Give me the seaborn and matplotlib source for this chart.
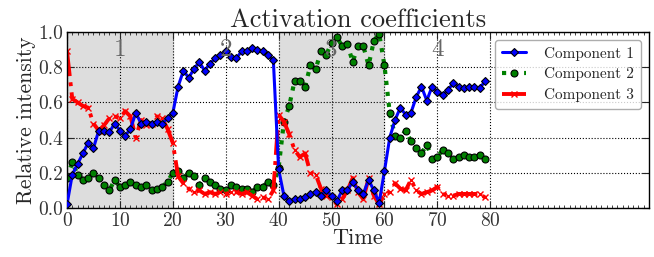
import numpy as np
import pandas as pd
import matplotlib
matplotlib.use("Agg")
import matplotlib.pyplot as plt
import seaborn as sns
from matplotlib.ticker import MultipleLocator

time = np.arange(80)

comp1 = [0.02, 0.19, 0.25, 0.31, 0.37, 0.34, 0.44, 0.44, 0.43, 0.48,
         0.44, 0.41, 0.45, 0.54, 0.48, 0.49, 0.48, 0.49, 0.48, 0.51,
         0.54, 0.69, 0.78, 0.74, 0.79, 0.83, 0.78, 0.82, 0.85, 0.87,
         0.89, 0.86, 0.85, 0.89, 0.89, 0.91, 0.90, 0.89, 0.87, 0.84,
         0.22, 0.07, 0.04, 0.05, 0.05, 0.06, 0.08, 0.09, 0.07, 0.10,
         0.07, 0.04, 0.10, 0.10, 0.15, 0.10, 0.08, 0.16, 0.10, 0.03,
         0.21, 0.40, 0.50, 0.57, 0.53, 0.54, 0.63, 0.69, 0.61, 0.69,
         0.66, 0.64, 0.67, 0.71, 0.69, 0.68, 0.69, 0.69, 0.68, 0.72]

comp2 = [0.17, 0.26, 0.19, 0.16, 0.17, 0.20, 0.17, 0.13, 0.10, 0.16,
         0.12, 0.13, 0.15, 0.13, 0.12, 0.13, 0.10, 0.11, 0.12, 0.15,
         0.20, 0.21, 0.17, 0.20, 0.18, 0.13, 0.17, 0.15, 0.13, 0.11,
         0.10, 0.13, 0.12, 0.11, 0.11, 0.09, 0.12, 0.12, 0.15, 0.13,
         0.23, 0.49, 0.58, 0.72, 0.72, 0.69, 0.81, 0.79, 0.89, 0.87,
         0.94, 0.97, 0.92, 0.93, 0.83, 0.92, 0.92, 0.81, 0.95, 0.99,
         0.81, 0.54, 0.41, 0.40, 0.44, 0.38, 0.34, 0.31, 0.36, 0.28,
         0.29, 0.33, 0.31, 0.28, 0.29, 0.30, 0.29, 0.29, 0.30, 0.28]

comp3 = [0.89, 0.62, 0.60, 0.58, 0.57, 0.48, 0.44, 0.47, 0.51, 0.52,
         0.51, 0.55, 0.52, 0.40, 0.50, 0.47, 0.48, 0.52, 0.51, 0.45,
         0.37, 0.18, 0.14, 0.11, 0.09, 0.10, 0.08, 0.09, 0.08, 0.09,
         0.08, 0.09, 0.09, 0.08, 0.09, 0.07, 0.05, 0.06, 0.05, 0.10,
         0.53, 0.49, 0.42, 0.33, 0.29, 0.31, 0.20, 0.19, 0.11, 0.07,
         0.06, 0.02, 0.05, 0.10, 0.17, 0.09, 0.05, 0.17, 0.07, 0.02,
         0.08, 0.09, 0.14, 0.11, 0.10, 0.16, 0.10, 0.08, 0.09, 0.10,
         0.12, 0.08, 0.07, 0.07, 0.08, 0.08, 0.08, 0.08, 0.08, 0.06]

segments = [(0, 20), (40, 60)]
segment_labels = ["1", "2", "3", "4"]
segment_centers = [10, 30, 50, 70]

sns.set_style("ticks")
plt.rcParams["font.family"] = ["cmr10", "DejaVu Serif"]
plt.rcParams["axes.formatter.use_mathtext"] = True
plt.rcParams["mathtext.fontset"] = "cm"

fig = plt.figure(figsize=(6.54, 2.57), dpi=100)
ax = fig.add_axes([67 / 654, 49 / 257, 582 / 654, 176 / 257])

for a, b in segments:
    ax.axvspan(a, b, color="#dddddd", zorder=0)

sns.lineplot(x=time, y=comp1, ax=ax, color="blue", lw=2.2, marker="D",
             markersize=3.8, markeredgecolor="black", markeredgewidth=0.8,
             label="Component 1", zorder=3)
sns.lineplot(x=time, y=comp2, ax=ax, color="green", lw=3, linestyle=":",
             marker="o", markersize=5, markeredgecolor="black",
             markeredgewidth=0.8, label="Component 2", zorder=2)
sns.lineplot(x=time, y=comp3, ax=ax, color="red", lw=2.8, linestyle="-.",
             marker="x", markersize=4.5, markeredgecolor="red",
             markeredgewidth=1, label="Component 3", zorder=2)

for xc, lab in zip(segment_centers, segment_labels):
    ax.text(xc, 0.9, lab, color="#666666", fontsize=18, ha="center", va="center")

ax.set_xlim(0, 110)
ax.set_ylim(0, 1)
ax.set_xticks(range(0, 81, 10))
ax.set_yticks(np.arange(0, 1.01, 0.2))
ax.set_yticklabels(["0.0", "0.2", "0.4", "0.6", "0.8", "1.0"])
ax.xaxis.set_minor_locator(MultipleLocator(1))
ax.tick_params(which="both", direction="in", top=True, right=True)
ax.tick_params(which="major", length=5, width=0.8, labelsize=14,
               labelcolor="#333333", pad=3)
ax.tick_params(which="minor", length=2.5, width=0.6)
ax.grid(True, which="major", color="black", linestyle=":", linewidth=0.8)
for s in ax.spines.values():
    s.set_color("black")
    s.set_linewidth(1)

ax.set_title("Activation coefficients", fontsize=19, pad=2)
ax.set_xlabel("Time", fontsize=16, labelpad=-1)
ax.set_ylabel("Relative intensity", fontsize=15.5, labelpad=1)

leg = ax.legend(loc="upper right", fontsize=11, handlelength=1.6,
                handletextpad=1.2, frameon=True, fancybox=True,
                borderaxespad=0.5, labelspacing=0.45, borderpad=0.45)
leg.get_frame().set_edgecolor("#999999")

plt.savefig("out.png", dpi=100)
